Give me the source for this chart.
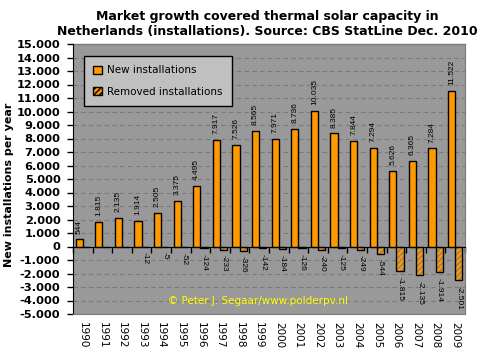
import numpy as np, pandas as pd, matplotlib.pyplot as plt, seaborn as sns
from matplotlib.patches import Patch
from matplotlib.ticker import MultipleLocator, FuncFormatter

# Données (CBS StatLine, déc. 2010)
annees = [str(a) for a in range(1990, 2010)]
nouvelles = [544, 1815, 2135, 1914, 2505, 3375, 4495, 7917, 7526, 8565,
             7971, 8736, 10035, 8385, 7844, 7294, 5626, 6365, 7284, 11522]
retirees = [0, 0, 0, -12, -5, -52, -124, -233, -326, -142,
            -184, -126, -240, -125, -249, -544, -1815, -2135, -1914, -2501]
series = ["New installations", "Removed installations"]

orange = "#FF9900"
gris_fond = "#999999"

df = pd.DataFrame({
    "annee": annees * 2,
    "valeur": nouvelles + retirees,
    "serie": [series[0]] * len(annees) + [series[1]] * len(annees),
})

def fmt(v):
    return f"{int(v):,}".replace(",", ".")

fig = plt.figure(figsize=(4.91, 3.6), dpi=100)
ax = fig.add_axes([73/491, 1-314/360, 392/491, 270/360])
ax.set_facecolor(gris_fond)

sns.barplot(data=df, x="annee", y="valeur", hue="serie", palette=[orange, orange],
            saturation=1, edgecolor="black", linewidth=1, width=0.74, dodge=True,
            ax=ax, legend=False, zorder=3)

c_new, c_rem = ax.containers[0], ax.containers[1]
for p in c_rem.patches:
    p.set_hatch("//////")
    if hasattr(p, "set_hatchcolor"):
        p.set_hatchcolor("#7f7f7f")
    else:
        p._hatch_color = (0.5, 0.5, 0.5, 1)

ax.bar_label(c_new, labels=[fmt(v) for v in nouvelles], rotation=90, padding=4,
             fontsize=6, family="Liberation Sans")
ax.bar_label(c_rem, labels=[fmt(v) if v != 0 else "" for v in retirees], rotation=-90,
             padding=4, fontsize=6, family="Liberation Sans")

# axes
ax.set_ylim(-5000, 15000)
ax.set_xlim(-0.5, len(annees) - 0.5)
ax.yaxis.set_major_locator(MultipleLocator(1000))
ax.yaxis.set_major_formatter(FuncFormatter(lambda v, _: fmt(v)))
ax.grid(axis="y", color="#7a7a7a", linestyle=(0, (4, 3)), linewidth=0.8, zorder=0)
ax.set_axisbelow(True)
for lab in ax.get_yticklabels():
    lab.set_fontweight("bold")
ax.tick_params(axis="y", labelsize=8.2, length=4, width=1, color="black", pad=5)
ax.tick_params(axis="x", which="major", length=0, labelsize=7.5, rotation=-90, pad=6)
ax.set_xlabel("")
ax.set_ylabel("New installations per year", fontsize=8, fontweight="bold")
ax.yaxis.set_label_coords(-0.15, 0.478)

# ligne zéro avec graduations entre les années
ax.spines["top"].set_position(("data", 0))
ax.spines["top"].set_color("black")
ax.spines["top"].set_zorder(4)
ax.xaxis.set_ticks_position("both")
ax.set_xticks(np.arange(-0.5, len(annees), 1), minor=True)
ax.tick_params(axis="x", which="minor", top=True, bottom=False, direction="in",
               length=4, width=1, color="black")
ax.tick_params(axis="x", which="major", top=False)
ax.spines["left"].set_color("black")
ax.spines["right"].set_color("#7a7a7a")
ax.spines["bottom"].set_color("#7a7a7a")
ax.plot([0, 1], [1, 1], transform=ax.transAxes, color="#7a7a7a", lw=1, clip_on=False)

ax.text(4.35, -4000, "© Peter J. Segaar/www.polderpv.nl", color="#FFFF00",
        fontsize=7.5, va="center", ha="left")

poignees = [Patch(facecolor=orange, edgecolor="black"),
            Patch(facecolor=orange, edgecolor="black", hatch="//////")]
leg = ax.legend(poignees, series, loc="upper left", bbox_to_anchor=(0.028, 0.956),
                borderaxespad=0, fontsize=7.5, fancybox=False, framealpha=1,
                facecolor="#C0C0C0", edgecolor="black", handlelength=0.8,
                handleheight=0.8, handletextpad=0.5, labelspacing=1.1,
                borderpad=0.9)
leg.get_frame().set_linewidth(1)

fig.text(0.545, 0.972, "Market growth covered thermal solar capacity in\n"
         "Netherlands (installations). Source: CBS StatLine Dec. 2010",
         ha="center", va="top", fontsize=9, fontweight="bold", linespacing=1.2)

plt.savefig("out.png", dpi=100)
